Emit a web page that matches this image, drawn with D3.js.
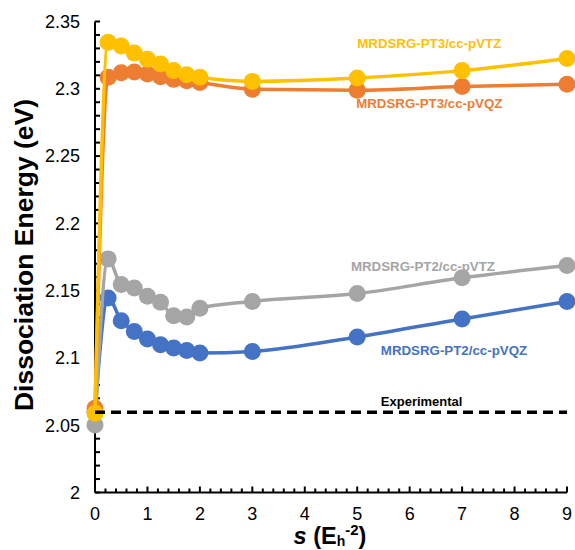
<!DOCTYPE html>
<html>
<head>
<meta charset="utf-8">
<script src="https://cdn.jsdelivr.net/npm/d3@7"></script>
<style>
  body { margin: 0; background: #fff; }
  svg { font-family: "Liberation Sans", Arial, sans-serif; }
</style>
</head>
<body>
<div id="chart"></div>
<script>
// flow parameter s values
const sValues = [0, 0.25, 0.5, 0.75, 1, 1.25, 1.5, 1.75, 2, 3, 5, 7, 9];

// dissociation energies (eV)
const pt2Vqz = [2.060, 2.1446, 2.1277, 2.1197, 2.1140, 2.1098, 2.1074, 2.1056, 2.1036, 2.1048, 2.1156, 2.1290, 2.1420];
const pt2Vtz = [2.0502, 2.1736, 2.1545, 2.1520, 2.1458, 2.1413, 2.1314, 2.1304, 2.1370, 2.1420, 2.1478, 2.1595, 2.1686];
const pt3Vqz = [2.0626, 2.3085, 2.3120, 2.3125, 2.3110, 2.3090, 2.3070, 2.3060, 2.3047, 2.2997, 2.2990, 2.3017, 2.3034];
const pt3Vtz = [2.0589, 2.3345, 2.3318, 2.3265, 2.3220, 2.3185, 2.3135, 2.3105, 2.3085, 2.3055, 2.3080, 2.3135, 2.3225];

const experimental = 2.0596;

const yTicks = [2, 2.05, 2.1, 2.15, 2.2, 2.25, 2.3, 2.35];
const xTicks = [0, 1, 2, 3, 4, 5, 6, 7, 8, 9];

const seriesNames = ["MRDSRG-PT2/cc-pVQZ", "MRDSRG-PT2/cc-pVTZ", "MRDSRG-PT3/cc-pVQZ", "MRDSRG-PT3/cc-pVTZ"];
const seriesValues = [pt2Vqz, pt2Vtz, pt3Vqz, pt3Vtz];
const seriesColors = ["#4472C4", "#A5A5A5", "#ED7D31", "#FFC000"];
// label anchors in data units (s, energy)
const labelAnchors = [[5.45, 2.1025], [4.88, 2.1645], [4.98, 2.2855], [5.0, 2.3305]];

const width = 575, height = 550;

const svg = d3.select("#chart").append("svg")
  .attr("width", width)
  .attr("height", height);

const x = d3.scaleLinear().domain([0, 9]).range([95, 567]);
const y = d3.scaleLinear().domain([2, 2.35]).range([492.5, 21.5]);

// y axis
const yAxis = svg.append("g").attr("transform", `translate(${x(0)},0)`);
yAxis.append("line")
  .attr("y1", y(2)).attr("y2", y(2.35))
  .attr("stroke", "#000").attr("stroke-width", 2);
yAxis.selectAll(".ytick")
  .data(d3.range(0, 36).map(i => 2 + i * 0.01))
  .join("line")
  .attr("x1", 0).attr("x2", 5)
  .attr("y1", d => y(d)).attr("y2", d => y(d))
  .attr("stroke", "#000").attr("stroke-width", 2);
yAxis.selectAll(".ylab")
  .data(yTicks)
  .join("text")
  .attr("x", -15)
  .attr("y", d => y(d))
  .attr("dy", "0.35em")
  .attr("text-anchor", "end")
  .style("font-size", "18px")
  .text(d => d3.format("~g")(d));

// x axis
const xAxis = svg.append("g").attr("transform", `translate(0,${y(2)})`);
xAxis.append("line")
  .attr("x1", x(0)).attr("x2", x(9))
  .attr("stroke", "#000").attr("stroke-width", 2);
xAxis.selectAll(".xtick")
  .data(d3.range(0, 46).map(i => i * 0.2))
  .join("line")
  .attr("x1", d => x(d)).attr("x2", d => x(d))
  .attr("y1", 0).attr("y2", (d, i) => i % 5 === 0 ? -6 : -4)
  .attr("stroke", "#000").attr("stroke-width", 2);
xAxis.selectAll(".xlab")
  .data(xTicks)
  .join("text")
  .attr("x", d => x(d))
  .attr("y", 27)
  .attr("text-anchor", "middle")
  .style("font-size", "18px")
  .text(d => d);

// axis titles
svg.append("text")
  .attr("transform", `translate(33,255) rotate(-90)`)
  .attr("text-anchor", "middle")
  .style("font-size", "26.5px")
  .style("font-weight", "bold")
  .text("Dissociation Energy (eV)");

const xTitle = svg.append("text")
  .attr("x", 330)
  .attr("y", 544)
  .attr("text-anchor", "middle")
  .style("font-size", "23.5px")
  .style("font-weight", "bold");
xTitle.append("tspan").style("font-style", "italic").text("s");
xTitle.append("tspan").text(" (E");
xTitle.append("tspan").attr("dy", 2).style("font-size", "14px").text("h");
xTitle.append("tspan").attr("dy", -11).style("font-size", "15px").text("-2");
xTitle.append("tspan").attr("dy", 9).text(")");

// series lines and markers
const line = d3.line()
  .x((d, i) => x(sValues[i]))
  .y(d => y(d))
  .curve(d3.curveMonotoneX);

seriesValues.forEach((vals, k) => {
  const g = svg.append("g");
  g.append("path")
    .datum(vals)
    .attr("d", line)
    .attr("fill", "none")
    .attr("stroke", seriesColors[k])
    .attr("stroke-width", 3.5);
  g.selectAll("circle")
    .data(vals)
    .join("circle")
    .attr("cx", (d, i) => x(sValues[i]))
    .attr("cy", d => y(d))
    .attr("r", 8.5)
    .attr("fill", seriesColors[k]);
});

// experimental reference line
svg.append("line")
  .attr("x1", x(0)).attr("x2", x(9))
  .attr("y1", y(experimental)).attr("y2", y(experimental))
  .attr("stroke", "#000")
  .attr("stroke-width", 3.5)
  .attr("stroke-dasharray", "10,6");

svg.append("text")
  .attr("x", x(5.45))
  .attr("y", y(experimental) - 6)
  .attr("text-anchor", "start")
  .style("font-size", "13px")
  .style("font-weight", "bold")
  .text("Experimental");

// series labels
seriesNames.forEach((name, k) => {
  svg.append("text")
    .attr("x", x(labelAnchors[k][0]))
    .attr("y", y(labelAnchors[k][1]))
    .style("font-size", "13.3px")
    .style("font-weight", "bold")
    .attr("fill", seriesColors[k])
    .text(name);
});
</script>
</body>
</html>
